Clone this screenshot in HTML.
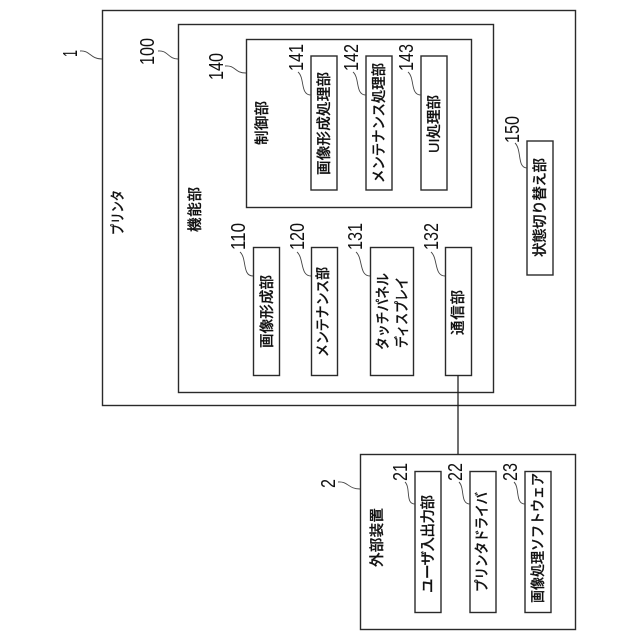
<!DOCTYPE html>
<html><head><meta charset="utf-8"><style>
html,body{margin:0;padding:0;background:#fff}
svg{display:block}
rect{fill:none;stroke:#2a2a2a;stroke-width:1.4}
path.l{fill:none;stroke:#444;stroke-width:.9}
text.j{font-family:"Liberation Sans","Noto Sans CJK JP",sans-serif;font-size:14.5px;font-weight:500;fill:#111;stroke:#111;stroke-width:.25}
text.n{font-family:"Liberation Sans",sans-serif;font-size:20px;fill:#111}
</style></head><body>
<svg width="640" height="640" viewBox="0 0 640 640" xmlns="http://www.w3.org/2000/svg">
<rect x="102.5" y="10.5" width="473" height="395"/>
<rect x="178.5" y="24.5" width="315" height="368"/>
<rect x="246.5" y="39.5" width="225" height="168"/>
<rect x="311" y="56" width="26" height="134"/>
<rect x="366" y="56" width="26" height="134"/>
<rect x="421" y="56" width="26" height="134"/>
<rect x="527" y="141" width="26" height="134"/>
<rect x="253.5" y="247.5" width="26" height="128"/>
<rect x="311.5" y="247.5" width="26" height="128"/>
<rect x="370.5" y="247.5" width="43" height="128"/>
<rect x="445.5" y="247.5" width="26" height="128"/>
<rect x="360.5" y="454.5" width="215" height="175"/>
<rect x="415" y="471.5" width="26" height="141"/>
<rect x="470" y="471.5" width="26" height="141"/>
<rect x="525" y="471.5" width="26" height="141"/>
<path d="M458 375V454" fill="none" stroke="#222" stroke-width="1.3"/>

<path class="l" d="M80 51C90 50 90 59 102 59"/>
<path class="l" d="M158 51C168 50 168 59 178 59"/>
<path class="l" d="M225 66C236 65 234 73 246 73"/>
<path class="l" d="M298 72C305 78 300 95 311 95"/>
<path class="l" d="M353 72C360 78 355 95 366 95"/>
<path class="l" d="M408 72C415 78 410 95 421 95"/>
<path class="l" d="M515 143C522 150 517 168 527 168"/>
<path class="l" d="M240 252C247 258 242 276 253 276"/>
<path class="l" d="M297 252C304 258 300 276 311 276"/>
<path class="l" d="M356 252C363 258 359 276 370 276"/>
<path class="l" d="M431 252C438 258 434 276 445 276"/>
<path class="l" d="M338 482C348 481 348 489 360 489"/>
<path class="l" d="M405 482C411 488 405 504 415 504"/>
<path class="l" d="M459 482C465 488 460 504 470 504"/>
<path class="l" d="M514 482C520 488 515 504 525 504"/>

<g>
<text class="j" transform="translate(123,235) rotate(-90)" textLength="45" lengthAdjust="spacingAndGlyphs">プリンタ</text>
<text class="j" transform="translate(200,232) rotate(-90)" textLength="45" lengthAdjust="spacing">機能部</text>
<text class="j" transform="translate(267,145) rotate(-90)" textLength="44" lengthAdjust="spacing">制御部</text>
<text class="j" transform="translate(329,175) rotate(-90)" textLength="103" lengthAdjust="spacing">画像形成処理部</text>
<text class="j" transform="translate(384,183) rotate(-90)" textLength="120" lengthAdjust="spacingAndGlyphs">メンテナンス処理部</text>
<text class="j" transform="translate(439,153) rotate(-90)" textLength="58" lengthAdjust="spacing">UI処理部</text>
<text class="j" transform="translate(545,257) rotate(-90)" textLength="99" lengthAdjust="spacing">状態切り替え部</text>
<text class="j" transform="translate(272,348) rotate(-90)" textLength="73" lengthAdjust="spacing">画像形成部</text>
<text class="j" transform="translate(328,357) rotate(-90)" textLength="90" lengthAdjust="spacingAndGlyphs">メンテナンス部</text>
<text class="j" transform="translate(388,350) rotate(-90)" textLength="77" lengthAdjust="spacingAndGlyphs">タッチパネル</text>
<text class="j" transform="translate(407,348) rotate(-90)" textLength="71" lengthAdjust="spacingAndGlyphs">ディスプレイ</text>
<text class="j" transform="translate(463,335) rotate(-90)" textLength="45" lengthAdjust="spacing">通信部</text>
<text class="j" transform="translate(382,567) rotate(-90)" textLength="59" lengthAdjust="spacing">外部装置</text>
<text class="j" transform="translate(433,593) rotate(-90)" textLength="98" lengthAdjust="spacing">ユーザ入出力部</text>
<text class="j" transform="translate(487,592) rotate(-90)" textLength="100" lengthAdjust="spacingAndGlyphs">プリンタドライバ</text>
<text class="j" transform="translate(543,603) rotate(-90)" textLength="130" lengthAdjust="spacingAndGlyphs">画像処理ソフトウェア</text>
</g>
<g>
<text class="n" transform="translate(77,57) rotate(-90)" textLength="7" lengthAdjust="spacingAndGlyphs">1</text>
<text class="n" transform="translate(154,65) rotate(-90)" textLength="27" lengthAdjust="spacingAndGlyphs">100</text>
<text class="n" transform="translate(223,80) rotate(-90)" textLength="27" lengthAdjust="spacingAndGlyphs">140</text>
<text class="n" transform="translate(303,71) rotate(-90)" textLength="27" lengthAdjust="spacingAndGlyphs">141</text>
<text class="n" transform="translate(358,71) rotate(-90)" textLength="27" lengthAdjust="spacingAndGlyphs">142</text>
<text class="n" transform="translate(413,71) rotate(-90)" textLength="27" lengthAdjust="spacingAndGlyphs">143</text>
<text class="n" transform="translate(519,143) rotate(-90)" textLength="27" lengthAdjust="spacingAndGlyphs">150</text>
<text class="n" transform="translate(245,250) rotate(-90)" textLength="27" lengthAdjust="spacingAndGlyphs">110</text>
<text class="n" transform="translate(304,250) rotate(-90)" textLength="27" lengthAdjust="spacingAndGlyphs">120</text>
<text class="n" transform="translate(362,250) rotate(-90)" textLength="27" lengthAdjust="spacingAndGlyphs">131</text>
<text class="n" transform="translate(438,250) rotate(-90)" textLength="27" lengthAdjust="spacingAndGlyphs">132</text>
<text class="n" transform="translate(335,488) rotate(-90)" textLength="9" lengthAdjust="spacingAndGlyphs">2</text>
<text class="n" transform="translate(407,481) rotate(-90)" textLength="18" lengthAdjust="spacingAndGlyphs">21</text>
<text class="n" transform="translate(462,481) rotate(-90)" textLength="18" lengthAdjust="spacingAndGlyphs">22</text>
<text class="n" transform="translate(517,481) rotate(-90)" textLength="18" lengthAdjust="spacingAndGlyphs">23</text>
</g>
</svg>
</body></html>
